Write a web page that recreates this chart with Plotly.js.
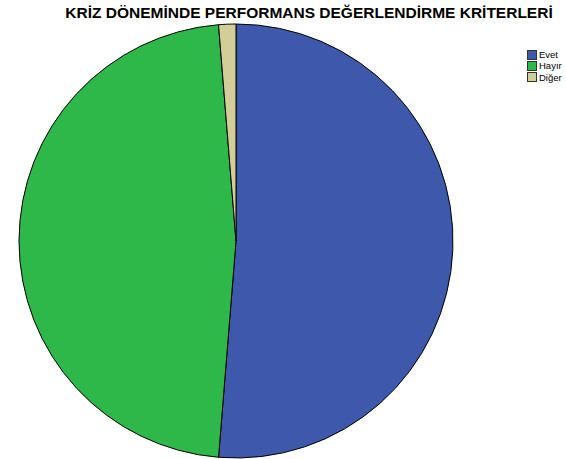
<!DOCTYPE html>
<html>
<head>
<meta charset="utf-8">
<script src="https://cdn.plot.ly/plotly-3.0.1.min.js"></script>
<style>html,body{margin:0;padding:0;background:#fff;}</style>
</head>
<body>
<div id="chart" style="width:566px;height:459px;"></div>
<script>
const categories = ["Evet", "Hayır", "Diğer"];
const values = [40, 37, 1];
const colors = ["#3e58ac", "#2fb84a", "#d3ce98"];

const W = 566, H = 459;
const cx = 236, cy = 241, r = 217;

// Legend built from the category/color arrays
const legX = 527, legY0 = 55, legStep = 11;
const annotations = [];
categories.forEach((c, i) => {
  const yc = 1 - (legY0 + i * legStep) / H;
  annotations.push({
    xref: "paper", yref: "paper", x: legX / W, y: yc,
    xanchor: "left", yanchor: "middle",
    text: " ", showarrow: false, width: 8, height: 8,
    bgcolor: colors[i], bordercolor: "#333", borderwidth: 1, borderpad: 0,
    font: {size: 6}
  });
  annotations.push({
    xref: "paper", yref: "paper", x: (legX + 11) / W, y: yc,
    xanchor: "left", yanchor: "middle",
    text: c, showarrow: false, borderpad: 0,
    font: {family: "Liberation Sans, Arial, sans-serif", size: 9.5, color: "#000"}
  });
});

Plotly.newPlot("chart", [{
  type: "pie",
  labels: categories,
  values: values,
  sort: false,
  direction: "clockwise",
  rotation: 0,
  textinfo: "none",
  hoverinfo: "label+percent",
  marker: {colors: colors, line: {color: "#000", width: 1}},
  domain: {x: [(cx - r) / W, (cx + r) / W], y: [(H - cy - r) / H, (H - cy + r) / H]}
}], {
  width: W, height: H,
  margin: {l: 0, r: 0, t: 0, b: 0, autoexpand: false},
  paper_bgcolor: "#fff",
  title: {
    text: "<b>KRİZ DÖNEMİNDE PERFORMANS DEĞERLENDİRME KRİTERLERİ</b>",
    font: {family: "Liberation Sans, Arial, sans-serif", size: 15.5, color: "#000"},
    x: 309 / W, xref: "container", xanchor: "center",
    y: 1 - 13 / H, yref: "container", yanchor: "middle"
  },
  showlegend: false,
  annotations: annotations
}, {displayModeBar: false, staticPlot: true});
</script>
</body>
</html>
